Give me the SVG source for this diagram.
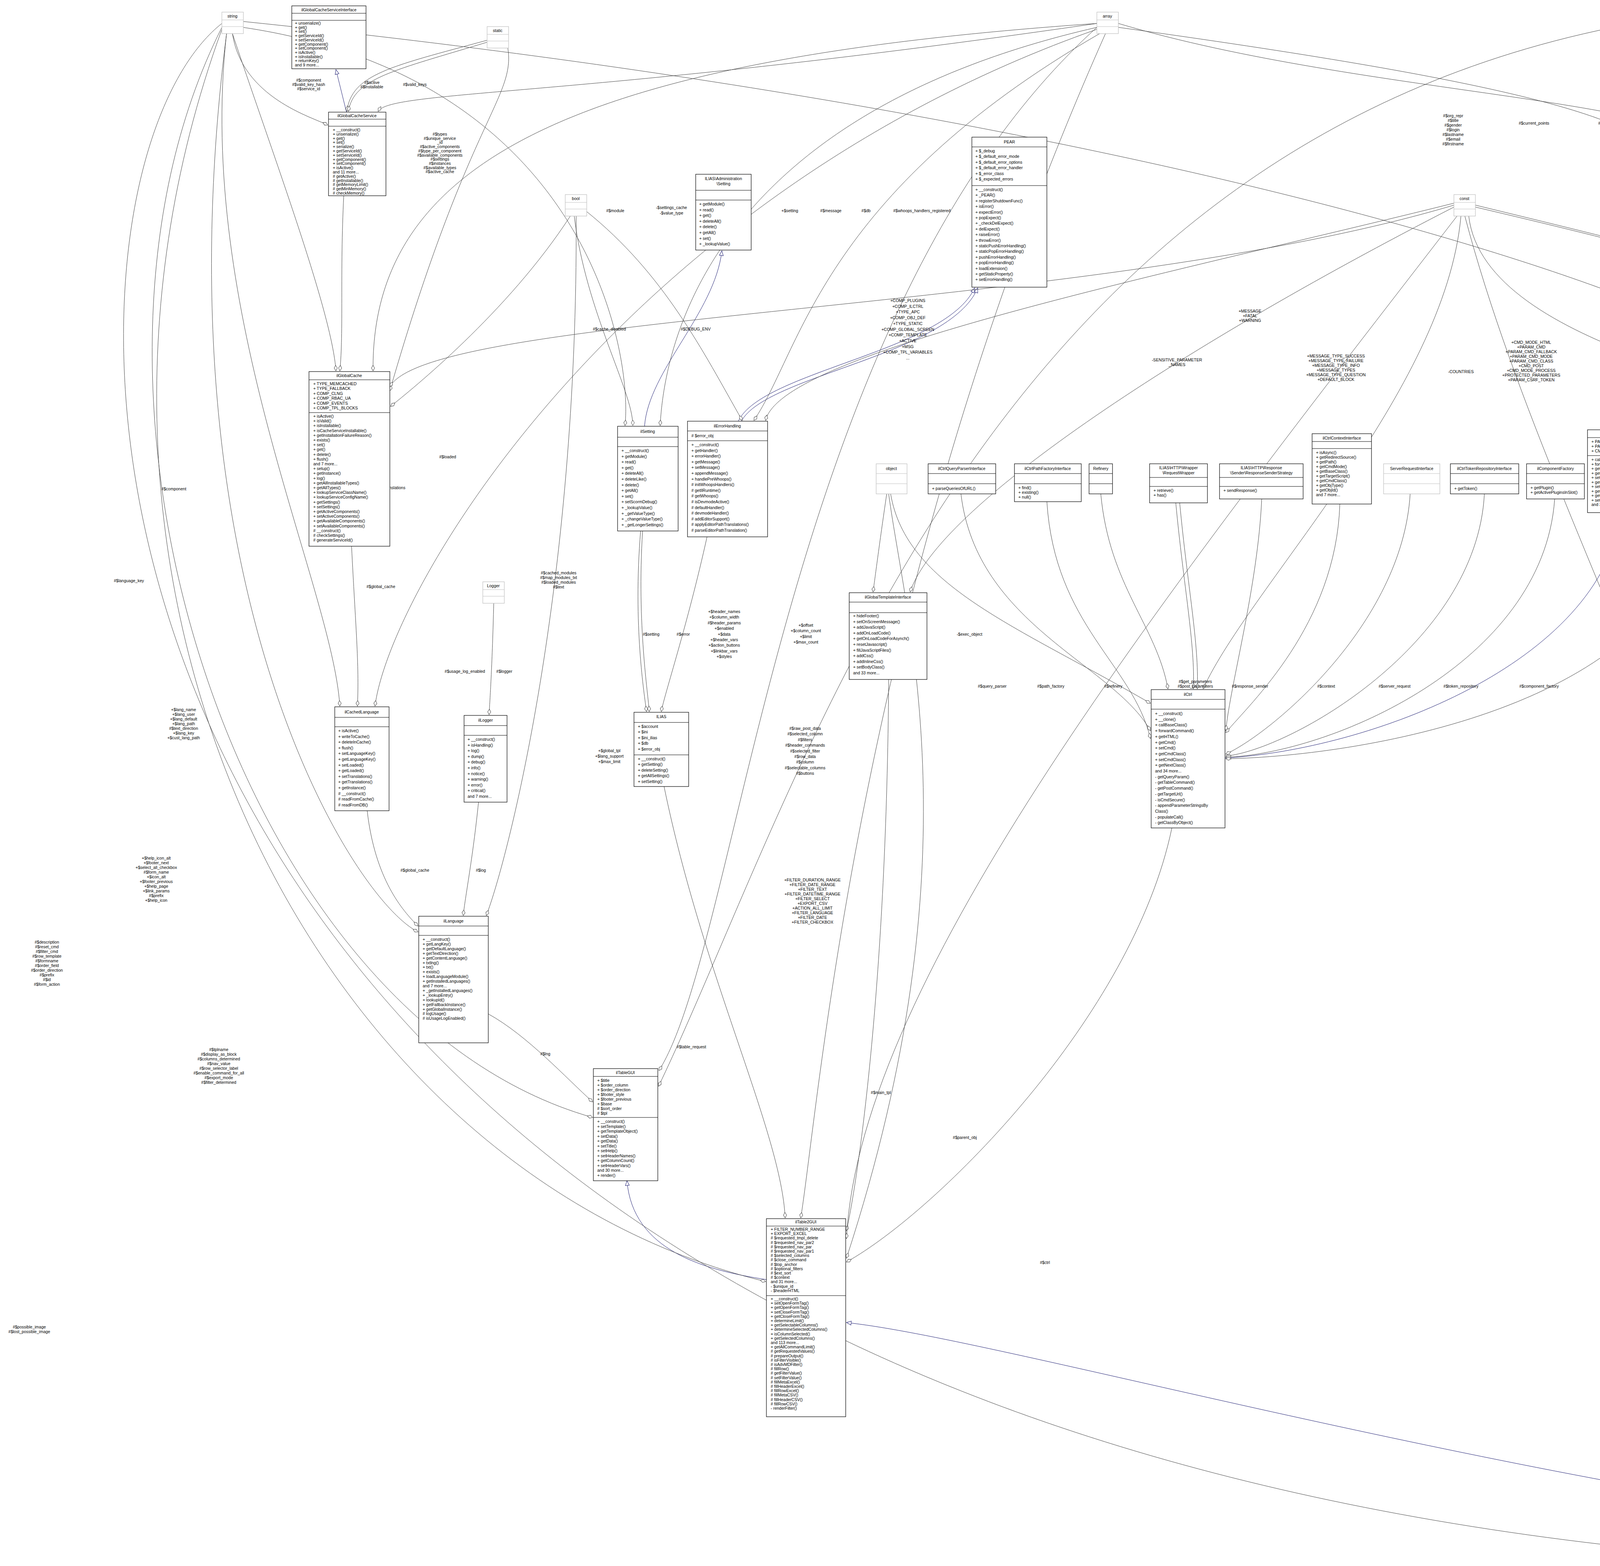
<svg xmlns="http://www.w3.org/2000/svg" width="6097" height="4008" viewBox="0 0 6097 4008">
<defs>
<style>
text{font-family:"Liberation Sans",Arial,sans-serif;font-size:10.5px;fill:#000}
.c{text-anchor:middle}
.l{text-anchor:middle}
.b{fill:#fff;stroke:#000;stroke-width:1.2}
.g{fill:#fff;stroke:#bfbfbf;stroke-width:1.2}
.f{fill:#bfbfbf;stroke:#000;stroke-width:1.2}
.s{stroke:#000;stroke-width:1.2}
.sg{stroke:#bfbfbf;stroke-width:1.2}
.e{fill:none;stroke:#404040;stroke-width:1;marker-end:url(#dia)}
.i{fill:none;stroke:#191970;stroke-width:1;marker-end:url(#tri)}
</style>
<marker id="dia" markerUnits="userSpaceOnUse" markerWidth="16" markerHeight="10" refX="15" refY="5" orient="auto"><path d="M1,5 L8,1 L15,5 L8,9 Z" fill="#fff" stroke="#404040"/></marker>
<marker id="tri" markerUnits="userSpaceOnUse" markerWidth="14" markerHeight="12" refX="13" refY="6" orient="auto"><path d="M1,1 L13,6 L1,11 Z" fill="#fff" stroke="#191970"/></marker>
</defs>
<rect width="6097" height="4008" fill="#fff"/>

<g id="edges">
<path class="i" d="M887,287 L860,178"/>
<path class="i" d="M1650,1091 C1660,950 1830,800 1848,642"/>
<path class="i" d="M1890,1078 C1950,950 2420,900 2495,737"/>
<path class="i" d="M1898,1078 C1960,960 2430,910 2503,737"/>
<path class="i" d="M3136,1940 C3500,1920 4100,1700 4150,1312"/>
<path class="i" d="M5520,1107 C5450,900 4400,800 4300,606"/>
<path class="i" d="M4574,3870 C3500,3700 2500,3420 2167,3385"/>
<path class="i" d="M1962,3275 C1800,3250 1620,3200 1605,3022"/>
<path class="e" d="M1247,103 C1000,170 900,190 888,285"/>
<path class="e" d="M1247,108 C1010,180 905,200 892,285"/>
<path class="e" d="M1300,123 C1320,250 1200,300 998,1000"/>
<path class="e" d="M595,86 C620,250 800,300 839,320"/>
<path class="e" d="M595,86 C700,400 850,800 860,949"/>
<path class="e" d="M2808,60 C1500,150 950,400 955,949"/>
<path class="e" d="M1460,553 C1300,800 1050,1000 1000,1040"/>
<path class="e" d="M880,501 C870,700 880,850 870,949"/>
<path class="e" d="M900,1398 C910,1600 920,1700 915,1807"/>
<path class="e" d="M940,2075 C960,2250 1030,2330 1070,2370"/>
<path class="e" d="M1225,2053 C1210,2200 1190,2300 1186,2343"/>
<path class="e" d="M1264,1544 C1260,1700 1255,1780 1252,1829"/>
<path class="e" d="M1475,553 C1480,1500 1300,2200 1245,2343"/>
<path class="e" d="M580,86 C400,1500 900,2300 1070,2385"/>
<path class="e" d="M1250,2595 C1350,2650 1450,2760 1517,2820"/>
<path class="e" d="M568,70 C100,1000 600,2600 1517,2860"/>
<path class="e" d="M568,75 C50,1500 800,3000 1960,3280"/>
<path class="e" d="M1640,1359 C1620,1600 1650,1780 1655,1821"/>
<path class="e" d="M1645,1359 C1630,1600 1660,1780 1662,1821"/>
<path class="e" d="M1810,1374 C1760,1600 1700,1780 1693,1821"/>
<path class="e" d="M2275,1739 C2270,2500 2200,3000 2167,3150"/>
<path class="e" d="M2270,1264 C2250,1400 2240,1480 2235,1515"/>
<path class="e" d="M2275,1264 C2320,1600 2500,2200 2167,3220"/>
<path class="e" d="M2280,1264 C2320,1500 2600,1600 2945,1800"/>
<path class="e" d="M2460,1264 C2500,1600 2850,1700 2945,1870"/>
<path class="e" d="M2680,1284 C2700,1600 2900,1700 2945,1890"/>
<path class="e" d="M2818,1264 C2840,1500 2960,1600 2990,1763"/>
<path class="e" d="M3010,1287 C3030,1500 3060,1650 3055,1763"/>
<path class="e" d="M3020,1287 C3040,1500 3070,1650 3065,1763"/>
<path class="e" d="M3230,1277 C3220,1500 3150,1750 3138,1870"/>
<path class="e" d="M3430,1290 C3420,1600 3200,1800 3138,1875"/>
<path class="e" d="M3610,1264 C3590,1600 3250,1880 3138,1930"/>
<path class="e" d="M3800,1264 C3780,1650 3300,1920 3138,1935"/>
<path class="e" d="M3980,1277 C3950,1700 3400,1930 3138,1938"/>
<path class="e" d="M4350,1296 C4300,1800 3500,1935 3138,1942"/>
<path class="e" d="M3000,2119 C2900,2600 2400,3100 2167,3230"/>
<path class="e" d="M4468,258 L4468,415"/>
<path class="e" d="M4185,60 C4300,150 4430,300 4427,415"/>
<path class="e" d="M2863,60 C3500,250 4380,250 4410,415"/>
<path class="e" d="M4470,670 C4500,900 4700,1000 4715,1105"/>
<path class="e" d="M4760,1345 C4800,1700 5100,1850 5176,1920"/>
<path class="e" d="M4766,1345 C4810,1700 5110,1860 5176,1932"/>
<path class="e" d="M5277,1330 L5275,1829"/>
<path class="e" d="M5545,1345 C5520,1700 5450,1880 5378,1925"/>
<path class="e" d="M5220,2053 C5100,2500 4800,3500 4760,3900"/>
<path class="e" d="M4594,150 C6080,300 6080,2500 4760,3910"/>
<path class="e" d="M3750,553 C4000,1500 4700,2500 4670,3808"/>
<path class="e" d="M568,60 C10,500 10,3700 4572,3995"/>
<path class="e" d="M5610,495 C5600,800 5600,1000 5600,1105"/>
<path class="e" d="M5650,495 C5800,1500 5500,1800 5378,1835"/>
<path class="e" d="M4185,50 C5000,100 5500,700 5560,1105"/>
<path class="e" d="M4185,45 C5800,100 5900,1500 5380,1845"/>
<path class="e" d="M3777,525 C4500,700 5300,900 5480,1105"/>
<path class="e" d="M3777,530 C4500,700 5250,900 5260,1120"/>
<path class="e" d="M3760,553 C3800,900 4600,1000 4740,1105"/>
<path class="e" d="M3740,553 C3700,1000 3200,1500 3080,1763"/>
<path class="e" d="M3722,530 C3000,900 2400,1300 2330,1515"/>
<path class="e" d="M3722,520 C3000,700 2000,900 1960,1076"/>
<path class="e" d="M3722,525 C2800,800 1100,800 998,990"/>
<path class="e" d="M3730,553 C3000,1500 2200,2500 2167,3170"/>
<path class="e" d="M2808,70 C2000,800 1900,2400 1687,2740"/>
<path class="e" d="M4130,70 C2500,400 2060,2000 1686,2780"/>
<path class="e" d="M2830,86 C2200,1500 2100,2800 2050,3117"/>
<path class="e" d="M2808,70 C1800,300 1700,900 1690,1089"/>
<path class="e" d="M622,70 C1500,200 1620,900 1600,1089"/>
<path class="e" d="M2815,86 C2100,500 2050,900 1930,1076"/>
<path class="e" d="M1500,540 C1700,700 1800,900 1900,1076"/>
<path class="e" d="M1470,553 C1500,800 1620,1000 1620,1089"/>
<path class="e" d="M1700,2013 C1800,2500 2000,2900 2010,3117"/>
<path class="e" d="M4160,70 C4000,200 4200,350 4220,428"/>
<path class="e" d="M2863,70 C3800,200 4250,300 4260,428"/>
<path class="e" d="M623,55 C3000,300 4600,800 4730,1105"/>
<path class="e" d="M2808,60 C1500,250 1000,230 968,285"/>
<path class="e" d="M2808,75 C1600,500 1000,1500 960,1807"/>
<path class="e" d="M580,86 C500,800 850,1500 870,1807"/>
</g>

<g id="labels">
<text class="l" x="790" y="209">#$component<tspan x="790" dy="11">#$valid_key_hash</tspan><tspan x="790" dy="11">#$service_id</tspan></text>
<text class="l" x="952" y="215">#$active<tspan x="952" dy="11">#$installable</tspan></text>
<text class="l" x="1062" y="220">#$valid_keys</text>
<text class="l" x="1126" y="347">#$types<tspan x="1126" dy="10.7">#$unique_service</tspan><tspan x="1126" dy="10.7">_id</tspan><tspan x="1126" dy="10.7">#$active_components</tspan><tspan x="1126" dy="10.7">#$type_per_component</tspan><tspan x="1126" dy="10.7">#$available_components</tspan><tspan x="1126" dy="10.7">#$settings</tspan><tspan x="1126" dy="10.7">#$instances</tspan><tspan x="1126" dy="10.7">#$available_types</tspan><tspan x="1126" dy="10.7">#$active_cache</tspan></text>
<text class="l" x="1146" y="1173">#$loaded</text>
<text class="l" x="1575" y="543">#$module</text>
<text class="l" x="1719" y="535">-$settings_cache<tspan x="1719" dy="14">-$value_type</tspan></text>
<text class="l" x="2022" y="543">+$setting</text>
<text class="l" x="2127" y="543">#$message</text>
<text class="l" x="2217" y="543">#$db</text>
<text class="l" x="2360" y="543">#$whoops_handlers_registered</text>
<text class="l" x="1781" y="846">#$DEBUG_ENV</text>
<text class="l" x="1560" y="846">#$cache_disabled</text>
<text class="l" x="2324" y="773">+COMP_PLUGINS<tspan x="2324" dy="14.7">+COMP_ILCTRL</tspan><tspan x="2324" dy="14.7">+TYPE_APC</tspan><tspan x="2324" dy="14.7">+COMP_OBJ_DEF</tspan><tspan x="2324" dy="14.7">+TYPE_STATIC</tspan><tspan x="2324" dy="14.7">+COMP_GLOBAL_SCREEN</tspan><tspan x="2324" dy="14.7">+COMP_TEMPLATE</tspan><tspan x="2324" dy="14.7">+ACTIVE</tspan><tspan x="2324" dy="14.7">+MSG</tspan><tspan x="2324" dy="14.7">+COMP_TPL_VARIABLES</tspan><tspan x="2324" dy="14.7">...</tspan></text>
<text class="l" x="1667" y="1627">#$setting</text>
<text class="l" x="1749" y="1627">#$error</text>
<text class="l" x="1854" y="1569">+$header_names<tspan x="1854" dy="14.4">+$column_width</tspan><tspan x="1854" dy="14.4">#$header_params</tspan><tspan x="1854" dy="14.4">+$enabled</tspan><tspan x="1854" dy="14.4">+$data</tspan><tspan x="1854" dy="14.4">+$header_vars</tspan><tspan x="1854" dy="14.4">+$action_buttons</tspan><tspan x="1854" dy="14.4">+$linkbar_vars</tspan><tspan x="1854" dy="14.4">+$styles</tspan></text>
<text class="l" x="2063" y="1604">+$offset<tspan x="2063" dy="14.4">+$column_count</tspan><tspan x="2063" dy="14.4">+$limit</tspan><tspan x="2063" dy="14.4">+$max_count</tspan></text>
<text class="l" x="2482" y="1627">-$exec_object</text>
<text class="l" x="2061" y="1868">#$raw_post_data<tspan x="2061" dy="14.4">#$selected_column</tspan><tspan x="2061" dy="14.4">#$filters</tspan><tspan x="2061" dy="14.4">#$header_commands</tspan><tspan x="2061" dy="14.4">#$selected_filter</tspan><tspan x="2061" dy="14.4">#$row_data</tspan><tspan x="2061" dy="14.4">#$column</tspan><tspan x="2061" dy="14.4">#$selectable_columns</tspan><tspan x="2061" dy="14.4">#$buttons</tspan></text>
<text class="l" x="1062" y="2231">#$global_cache</text>
<text class="l" x="1231" y="2231">#$log</text>
<text class="l" x="1396" y="2701">#$lng</text>
<text class="l" x="1560" y="1925">+$global_tpl<tspan x="1560" dy="14">+$lang_support</tspan><tspan x="1560" dy="14">+$max_limit</tspan></text>
<text class="l" x="975" y="1505">#$global_cache</text>
<text class="l" x="445" y="1255">#$component</text>
<text class="l" x="330" y="1490">#$language_key</text>
<text class="l" x="1005" y="1252">#$translations</text>
<text class="l" x="1430" y="1470">#$cached_modules<tspan x="1430" dy="12">#$map_modules_txt</tspan><tspan x="1430" dy="12">#$loaded_modules</tspan><tspan x="1430" dy="12">#$text</tspan></text>
<text class="l" x="1190" y="1722">#$usage_log_enabled</text>
<text class="l" x="1291" y="1722">#$logger</text>
<text class="l" x="470" y="1820">+$lang_name<tspan x="470" dy="12">+$lang_user</tspan><tspan x="470" dy="12">+$lang_default</tspan><tspan x="470" dy="12">+$lang_path</tspan><tspan x="470" dy="12">#$text_direction</tspan><tspan x="470" dy="12">+$lang_key</tspan><tspan x="470" dy="12">+$cust_lang_path</tspan></text>
<text class="l" x="400" y="2200">+$help_icon_alt<tspan x="400" dy="12">+$footer_next</tspan><tspan x="400" dy="12">+$select_all_checkbox</tspan><tspan x="400" dy="12">#$form_name</tspan><tspan x="400" dy="12">+$icon_alt</tspan><tspan x="400" dy="12">+$footer_previous</tspan><tspan x="400" dy="12">+$help_page</tspan><tspan x="400" dy="12">+$link_params</tspan><tspan x="400" dy="12">#$prefix</tspan><tspan x="400" dy="12">+$help_icon</tspan></text>
<text class="l" x="120" y="2415">#$description<tspan x="120" dy="12">#$reset_cmd</tspan><tspan x="120" dy="12">#$filter_cmd</tspan><tspan x="120" dy="12">#$row_template</tspan><tspan x="120" dy="12">#$formname</tspan><tspan x="120" dy="12">#$order_field</tspan><tspan x="120" dy="12">#$order_direction</tspan><tspan x="120" dy="12">#$prefix</tspan><tspan x="120" dy="12">#$id</tspan><tspan x="120" dy="12">#$form_action</tspan></text>
<text class="l" x="560" y="2690">#$tplname<tspan x="560" dy="12">#$display_as_block</tspan><tspan x="560" dy="12">#$columns_determined</tspan><tspan x="560" dy="12">#$nav_value</tspan><tspan x="560" dy="12">#$row_selector_label</tspan><tspan x="560" dy="12">#$enable_command_for_all</tspan><tspan x="560" dy="12">#$export_mode</tspan><tspan x="560" dy="12">#$filter_determined</tspan></text>
<text class="l" x="75" y="3400">#$possible_image<tspan x="75" dy="12">#$lost_possible_image</tspan></text>
<text class="l" x="1770" y="2683">#$table_request</text>
<text class="l" x="2255" y="2800">#$main_tpl</text>
<text class="l" x="2470" y="2915">#$parent_obj</text>
<text class="l" x="2675" y="3235">#$ctrl</text>
<text class="l" x="2080" y="2256">+FILTER_DURATION_RANGE<tspan x="2080" dy="12">+FILTER_DATE_RANGE</tspan><tspan x="2080" dy="12">+FILTER_TEXT</tspan><tspan x="2080" dy="12">+FILTER_DATETIME_RANGE</tspan><tspan x="2080" dy="12">+FILTER_SELECT</tspan><tspan x="2080" dy="12">+EXPORT_CSV</tspan><tspan x="2080" dy="12">+ACTION_ALL_LIMIT</tspan><tspan x="2080" dy="12">+FILTER_LANGUAGE</tspan><tspan x="2080" dy="12">+FILTER_DATE</tspan><tspan x="2080" dy="12">+FILTER_CHECKBOX</tspan></text>
<text class="l" x="2540" y="1760">#$query_parser</text>
<text class="l" x="2690" y="1760">#$path_factory</text>
<text class="l" x="2850" y="1760">#$refinery</text>
<text class="l" x="3060" y="1748">#$get_parameters<tspan x="3060" dy="12">#$post_parameters</tspan></text>
<text class="l" x="3200" y="1760">#$response_sender</text>
<text class="l" x="3395" y="1760">#$context</text>
<text class="l" x="3570" y="1760">#$server_request</text>
<text class="l" x="3740" y="1760">#$token_repository</text>
<text class="l" x="3940" y="1760">#$component_factory</text>
<text class="l" x="4330" y="1760">#$structure</text>
<text class="l" x="3013" y="925">-SENSITIVE_PARAMETER<tspan x="3013" dy="12">_NAMES</tspan></text>
<text class="l" x="3420" y="915">+MESSAGE_TYPE_SUCCESS<tspan x="3420" dy="12">+MESSAGE_TYPE_FAILURE</tspan><tspan x="3420" dy="12">+MESSAGE_TYPE_INFO</tspan><tspan x="3420" dy="12">+MESSAGE_TYPES</tspan><tspan x="3420" dy="12">+MESSAGE_TYPE_QUESTION</tspan><tspan x="3420" dy="12">+DEFAULT_BLOCK</tspan></text>
<text class="l" x="3920" y="880">+CMD_MODE_HTML<tspan x="3920" dy="12">+PARAM_CMD</tspan><tspan x="3920" dy="12">+PARAM_CMD_FALLBACK</tspan><tspan x="3920" dy="12">+PARAM_CMD_MODE</tspan><tspan x="3920" dy="12">+PARAM_CMD_CLASS</tspan><tspan x="3920" dy="12">+CMD_POST</tspan><tspan x="3920" dy="12">+CMD_MODE_PROCESS</tspan><tspan x="3920" dy="12">+PROTECTED_PARAMETERS</tspan><tspan x="3920" dy="12">+PARAM_CSRF_TOKEN</tspan></text>
<text class="l" x="4180" y="890">+KEY_UNSAFE_COMMANDS<tspan x="4180" dy="12">+KEY_CLASS_CID</tspan><tspan x="4180" dy="12">+KEY_CLASS_CHILDREN</tspan><tspan x="4180" dy="12">+KEY_CLASS_PARENTS</tspan><tspan x="4180" dy="12">+KEY_SAFE_COMMANDS</tspan><tspan x="4180" dy="12">+KEY_CLASS_CID_PATHS</tspan><tspan x="4180" dy="12">+KEY_CLASS_PATH</tspan><tspan x="4180" dy="12">+KEY_CLASS_NAME</tspan></text>
<text class="l" x="3740" y="955">-COUNTRIES</text>
<text class="l" x="4640" y="810">+EVENT_USER_REASSIGNED<tspan x="4640" dy="12">+EVENT_USER_NOT_SUCCESSFUL</tspan><tspan x="4640" dy="12">+EVENT_VALIDITY_CHANGE</tspan><tspan x="4640" dy="12">+CONNECTOR</tspan><tspan x="4640" dy="12">+EVENT_SCORE_CHANGE</tspan><tspan x="4640" dy="12">+EVENT_USER_TO_RESTART</tspan><tspan x="4640" dy="12">+EVENT_USER_ASSIGNED</tspan><tspan x="4640" dy="12">+EVENT_USER_ABOUT_TO_FAIL</tspan><tspan x="4640" dy="12">+EVENT_USER_DEASSIGNED</tspan><tspan x="4640" dy="12">+EVENT_DEADLINE_CHANGE</tspan></text>
<text class="l" x="5080" y="830">+DATE_TIME_FORMAT<tspan x="5080" dy="12">+STATUS_FAILED</tspan><tspan x="5080" dy="12">+STATUS_ACCREDITED</tspan><tspan x="5080" dy="12">+DATE_FORMAT</tspan><tspan x="5080" dy="12">+STATUS_IN_PROGRESS</tspan><tspan x="5080" dy="12">+STATUS_NOT_RELEVANT</tspan><tspan x="5080" dy="12">+COMPLETED_BY_SUBNODES</tspan><tspan x="5080" dy="12">+STATUS_COMPLETED</tspan></text>
<text class="l" x="3200" y="800">+MESSAGE<tspan x="3200" dy="12">+FATAL</tspan><tspan x="3200" dy="12">+WARNING</tspan></text>
<text class="l" x="3720" y="300">#$org_repr<tspan x="3720" dy="12">#$title</tspan><tspan x="3720" dy="12">#$gender</tspan><tspan x="3720" dy="12">#$login</tspan><tspan x="3720" dy="12">#$lastname</tspan><tspan x="3720" dy="12">#$email</tspan><tspan x="3720" dy="12">#$firstname</tspan></text>
<text class="l" x="3927" y="319">#$current_points</text>
<text class="l" x="4120" y="319">#$subnodes</text>
<text class="l" x="4320" y="303">-$user_data</text>
<text class="l" x="4415" y="303">+$usr_id</text>
<text class="l" x="4489" y="303">+$db</text>
<text class="l" x="4310" y="542">#$container</text>
<text class="l" x="5845" y="900">#$usr_id<tspan x="5845" dy="12">#$last_change_by</tspan><tspan x="5845" dy="12">#$restarted_assignment_id</tspan><tspan x="5845" dy="12">#$id</tspan></text>
<text class="l" x="6037" y="1042">#$db</text>
<text class="l" x="5600" y="955">#$vq_date<tspan x="5600" dy="12">#$deadline</tspan><tspan x="5600" dy="12">#$assignment_date</tspan><tspan x="5600" dy="12">#$completion_date</tspan></text>
<text class="l" x="5110" y="480">#$prg_obj_id<tspan x="5110" dy="12">#$last_change_by</tspan><tspan x="5110" dy="12">#$status</tspan><tspan x="5110" dy="12">#$points</tspan><tspan x="5110" dy="12">#$points_cur</tspan><tspan x="5110" dy="12">#$completion_by</tspan></text>
<text class="l" x="5690" y="1410">#$restart_date<tspan x="5690" dy="12">#$last_change</tspan></text>
<text class="l" x="5047" y="1180">+AUTO_ASSIGNED_BY_GROUP<tspan x="5047" dy="14.7">+DATE_TIME_FORMAT</tspan><tspan x="5047" dy="14.7">+AUTO_ASSIGNED_BY_COURSE</tspan><tspan x="5047" dy="14.7">+AUTO_ASSIGNED_BY_ROLE</tspan><tspan x="5047" dy="14.7">+DATE_FORMAT</tspan><tspan x="5047" dy="14.7">+NO_RESTARTED_ASSIGNMENT</tspan><tspan x="5047" dy="14.7">+AUTO_ASSIGNED_BY_ORGU</tspan></text>
<text class="l" x="4660" y="940">#$udf</text>
<text class="l" x="5125" y="1934">#$other_cols<tspan x="5125" dy="15">#$export_mode</tspan></text>
<text class="l" x="4725" y="2450">#$user_info</text>
<text class="l" x="5230" y="2450">#$events</text>
<text class="l" x="5600" y="2450">#$progress</text>
<text class="l" x="4705" y="2760">-SEL_COLUMN_DEADLINE<tspan x="4705" dy="12">-SEL_COLUMN_ASSIGNMENT</tspan><tspan x="4705" dy="12">_DATE</tspan><tspan x="4705" dy="12">-SEL_COLUMN_COMPLETION_DATE</tspan></text>
<text class="l" x="4600" y="3420">#$assignment</text>
</g>

<g id="n_string"><rect class="g" x="568" y="31" width="55" height="55"/><line class="sg" x1="568" y1="51" x2="623" y2="51"/><line class="sg" x1="568" y1="68" x2="623" y2="68"/><text class="c" x="595" y="45">string</text></g>
<g id="n_static"><rect class="g" x="1247" y="68" width="55" height="55"/><line class="sg" x1="1247" y1="88" x2="1302" y2="88"/><line class="sg" x1="1247" y1="105" x2="1302" y2="105"/><text class="c" x="1274" y="82">static</text></g>
<g id="n_array"><rect class="g" x="2808" y="31" width="55" height="55"/><line class="sg" x1="2808" y1="51" x2="2863" y2="51"/><line class="sg" x1="2808" y1="68" x2="2863" y2="68"/><text class="c" x="2835" y="45">array</text></g>
<g id="n_int"><rect class="g" x="4130" y="31" width="55" height="55"/><line class="sg" x1="4130" y1="51" x2="4185" y2="51"/><line class="sg" x1="4130" y1="68" x2="4185" y2="68"/><text class="c" x="4157" y="45">int</text></g>
<g id="n_bool"><rect class="g" x="1447" y="498" width="55" height="55"/><line class="sg" x1="1447" y1="518" x2="1502" y2="518"/><line class="sg" x1="1447" y1="535" x2="1502" y2="535"/><text class="c" x="1474" y="512">bool</text></g>
<g id="n_const"><rect class="g" x="3722" y="498" width="55" height="55"/><line class="sg" x1="3722" y1="518" x2="3777" y2="518"/><line class="sg" x1="3722" y1="535" x2="3777" y2="535"/><text class="c" x="3749" y="512">const</text></g>
<g id="n_Logger"><rect class="g" x="1236" y="1489" width="55" height="55"/><line class="sg" x1="1236" y1="1509" x2="1291" y2="1509"/><line class="sg" x1="1236" y1="1526" x2="1291" y2="1526"/><text class="c" x="1263" y="1503">Logger</text></g>
<g id="n_DateTimeImmutable"><rect class="g" x="5560" y="440" width="115" height="55"/><line class="sg" x1="5560" y1="460" x2="5675" y2="460"/><line class="sg" x1="5560" y1="477" x2="5675" y2="477"/><text class="c" x="5617" y="454">DateTimeImmutable</text></g>
<g id="n_object"><rect class="g" x="2243" y="1187" width="79" height="77"/><line class="sg" x1="2243" y1="1212" x2="2322" y2="1212"/><line class="sg" x1="2243" y1="1238" x2="2322" y2="1238"/><text class="c" x="2282" y="1203">object</text></g>
<g id="n_ServerRequestInterface"><rect class="g" x="3542" y="1187" width="144" height="77"/><line class="sg" x1="3542" y1="1212" x2="3686" y2="1212"/><line class="sg" x1="3542" y1="1238" x2="3686" y2="1238"/><text class="c" x="3614" y="1203">ServerRequestInterface</text></g>

<g id="n_ilGlobalCacheServiceInterface"><rect class="b" x="747" y="15" width="190" height="161"/><line class="s" x1="747" y1="34" x2="937" y2="34"/><line class="s" x1="747" y1="52" x2="937" y2="52"/><text class="c" x="842" y="29">ilGlobalCacheServiceInterface</text><text x="755" y="63">+ unserialize()<tspan x="755" dy="10.7">+ get()</tspan><tspan x="755" dy="10.7">+ set()</tspan><tspan x="755" dy="10.7">+ getServiceId()</tspan><tspan x="755" dy="10.7">+ setServiceId()</tspan><tspan x="755" dy="10.7">+ getComponent()</tspan><tspan x="755" dy="10.7">+ setComponent()</tspan><tspan x="755" dy="10.7">+ isActive()</tspan><tspan x="755" dy="10.7">+ isInstallable()</tspan><tspan x="755" dy="10.7">+ returnKey()</tspan><tspan x="755" dy="10.7">and 9 more...</tspan></text></g>

<g id="n_ilGlobalCacheService"><rect class="b" x="841" y="287" width="147" height="214"/><line class="s" x1="841" y1="305" x2="988" y2="305"/><line class="s" x1="841" y1="323" x2="988" y2="323"/><text class="c" x="914" y="300">ilGlobalCacheService</text><text x="852" y="336">+ __construct()<tspan x="852" dy="10.8">+ unserialize()</tspan><tspan x="852" dy="10.8">+ get()</tspan><tspan x="852" dy="10.8">+ set()</tspan><tspan x="852" dy="10.8">+ serialize()</tspan><tspan x="852" dy="10.8">+ getServiceId()</tspan><tspan x="852" dy="10.8">+ setServiceId()</tspan><tspan x="852" dy="10.8">+ getComponent()</tspan><tspan x="852" dy="10.8">+ setComponent()</tspan><tspan x="852" dy="10.8">+ isActive()</tspan><tspan x="852" dy="10.8">and 11 more...</tspan><tspan x="852" dy="10.8"># getActive()</tspan><tspan x="852" dy="10.8"># getInstallable()</tspan><tspan x="852" dy="10.8"># getMemoryLimit()</tspan><tspan x="852" dy="10.8"># getMinMemory()</tspan><tspan x="852" dy="10.8"># checkMemory()</tspan></text></g>

<g id="n_ilGlobalCache"><rect class="b" x="791" y="951" width="207" height="447"/><line class="s" x1="791" y1="972" x2="998" y2="972"/><line class="s" x1="791" y1="1056" x2="998" y2="1056"/><text class="c" x="894" y="965">ilGlobalCache</text><text x="802" y="986">+ TYPE_MEMCACHED<tspan x="802" dy="12.4">+ TYPE_FALLBACK</tspan><tspan x="802" dy="12.4">+ COMP_CLNG</tspan><tspan x="802" dy="12.4">+ COMP_RBAC_UA</tspan><tspan x="802" dy="12.4">+ COMP_EVENTS</tspan><tspan x="802" dy="12.4">+ COMP_TPL_BLOCKS</tspan></text><text x="802" y="1069">+ isActive()<tspan x="802" dy="12.2">+ isValid()</tspan><tspan x="802" dy="12.2">+ isInstallable()</tspan><tspan x="802" dy="12.2">+ isCacheServiceInstallable()</tspan><tspan x="802" dy="12.2">+ getInstallationFailureReason()</tspan><tspan x="802" dy="12.2">+ exists()</tspan><tspan x="802" dy="12.2">+ set()</tspan><tspan x="802" dy="12.2">+ get()</tspan><tspan x="802" dy="12.2">+ delete()</tspan><tspan x="802" dy="12.2">+ flush()</tspan><tspan x="802" dy="12.2">and 7 more...</tspan><tspan x="802" dy="12.2">+ setup()</tspan><tspan x="802" dy="12.2">+ getInstance()</tspan><tspan x="802" dy="12.2">+ log()</tspan><tspan x="802" dy="12.2">+ getAllInstallableTypes()</tspan><tspan x="802" dy="12.2">+ getAllTypes()</tspan><tspan x="802" dy="12.2">+ lookupServiceClassName()</tspan><tspan x="802" dy="12.2">+ lookupServiceConfigName()</tspan><tspan x="802" dy="12.2">+ getSettings()</tspan><tspan x="802" dy="12.2">+ setSettings()</tspan><tspan x="802" dy="12.2">+ getActiveComponents()</tspan><tspan x="802" dy="12.2">+ setActiveComponents()</tspan><tspan x="802" dy="12.2">+ getAvailableComponents()</tspan><tspan x="802" dy="12.2">+ setAvailableComponents()</tspan><tspan x="802" dy="12.2"># __construct()</tspan><tspan x="802" dy="12.2"># checkSettings()</tspan><tspan x="802" dy="12.2"># generateServiceId()</tspan></text></g>

<g id="n_ilCachedLanguage"><rect class="b" x="857" y="1809" width="139" height="266"/><line class="s" x1="857" y1="1836" x2="996" y2="1836"/><line class="s" x1="857" y1="1860" x2="996" y2="1860"/><text class="c" x="926" y="1826">ilCachedLanguage</text><text x="866" y="1874">+ isActive()<tspan x="866" dy="14.6">+ writeToCache()</tspan><tspan x="866" dy="14.6">+ deleteInCache()</tspan><tspan x="866" dy="14.6">+ flush()</tspan><tspan x="866" dy="14.6">+ setLanguageKey()</tspan><tspan x="866" dy="14.6">+ getLanguageKey()</tspan><tspan x="866" dy="14.6">+ setLoaded()</tspan><tspan x="866" dy="14.6">+ getLoaded()</tspan><tspan x="866" dy="14.6">+ setTranslations()</tspan><tspan x="866" dy="14.6">+ getTranslations()</tspan><tspan x="866" dy="14.6">+ getInstance()</tspan><tspan x="866" dy="14.6"># __construct()</tspan><tspan x="866" dy="14.6"># readFromCache()</tspan><tspan x="866" dy="14.6"># readFromDB()</tspan></text></g>

<g id="n_ilLogger"><rect class="b" x="1188" y="1831" width="110" height="222"/><line class="s" x1="1188" y1="1857" x2="1298" y2="1857"/><line class="s" x1="1188" y1="1882" x2="1298" y2="1882"/><text class="c" x="1243" y="1847">ilLogger</text><text x="1197" y="1896">+ __construct()<tspan x="1197" dy="14.6">+ isHandling()</tspan><tspan x="1197" dy="14.6">+ log()</tspan><tspan x="1197" dy="14.6">+ dump()</tspan><tspan x="1197" dy="14.6">+ debug()</tspan><tspan x="1197" dy="14.6">+ info()</tspan><tspan x="1197" dy="14.6">+ notice()</tspan><tspan x="1197" dy="14.6">+ warning()</tspan><tspan x="1197" dy="14.6">+ error()</tspan><tspan x="1197" dy="14.6">+ critical()</tspan><tspan x="1197" dy="14.6">and 7 more...</tspan></text></g>

<g id="n_ilLanguage"><rect class="b" x="1072" y="2345" width="178" height="324"/><line class="s" x1="1072" y1="2370" x2="1250" y2="2370"/><line class="s" x1="1072" y1="2394" x2="1250" y2="2394"/><text class="c" x="1161" y="2361">ilLanguage</text><text x="1082" y="2408">+ __construct()<tspan x="1082" dy="11.9">+ getLangKey()</tspan><tspan x="1082" dy="11.9">+ getDefaultLanguage()</tspan><tspan x="1082" dy="11.9">+ getTextDirection()</tspan><tspan x="1082" dy="11.9">+ getContentLanguage()</tspan><tspan x="1082" dy="11.9">+ txtlng()</tspan><tspan x="1082" dy="11.9">+ txt()</tspan><tspan x="1082" dy="11.9">+ exists()</tspan><tspan x="1082" dy="11.9">+ loadLanguageModule()</tspan><tspan x="1082" dy="11.9">+ getInstalledLanguages()</tspan><tspan x="1082" dy="11.9">and 7 more...</tspan><tspan x="1082" dy="11.9">+ _getInstalledLanguages()</tspan><tspan x="1082" dy="11.9">+ _lookupEntry()</tspan><tspan x="1082" dy="11.9">+ lookupId()</tspan><tspan x="1082" dy="11.9">+ getFallbackInstance()</tspan><tspan x="1082" dy="11.9">+ getGlobalInstance()</tspan><tspan x="1082" dy="11.9"># logUsage()</tspan><tspan x="1082" dy="11.9"># isUsageLogEnabled()</tspan></text></g>

<g id="n_ilAdministrationSetting"><rect class="b" x="1781" y="446" width="142" height="194"/><line class="s" x1="1781" y1="487" x2="1923" y2="487"/><line class="s" x1="1781" y1="512" x2="1923" y2="512"/><text class="c" x="1852" y="461">ILIAS\Administration<tspan x="1852" dy="13">\Setting</tspan></text><text x="1790" y="526">+ getModule()<tspan x="1790" dy="14.6">+ read()</tspan><tspan x="1790" dy="14.6">+ get()</tspan><tspan x="1790" dy="14.6">+ deleteAll()</tspan><tspan x="1790" dy="14.6">+ delete()</tspan><tspan x="1790" dy="14.6">+ getAll()</tspan><tspan x="1790" dy="14.6">+ set()</tspan><tspan x="1790" dy="14.6">+ _lookupValue()</tspan></text></g>

<g id="n_PEAR"><rect class="b" x="2488" y="351" width="192" height="384"/><line class="s" x1="2488" y1="376" x2="2680" y2="376"/><line class="s" x1="2488" y1="475" x2="2680" y2="475"/><text class="c" x="2584" y="367">PEAR</text><text x="2497" y="390">+ $_debug<tspan x="2497" dy="14.4">+ $_default_error_mode</tspan><tspan x="2497" dy="14.4">+ $_default_error_options</tspan><tspan x="2497" dy="14.4">+ $_default_error_handler</tspan><tspan x="2497" dy="14.4">+ $_error_class</tspan><tspan x="2497" dy="14.4">+ $_expected_errors</tspan></text><text x="2497" y="489">+ __construct()<tspan x="2497" dy="14.4">+ _PEAR()</tspan><tspan x="2497" dy="14.4">+ registerShutdownFunc()</tspan><tspan x="2497" dy="14.4">+ isError()</tspan><tspan x="2497" dy="14.4">+ expectError()</tspan><tspan x="2497" dy="14.4">+ popExpect()</tspan><tspan x="2497" dy="14.4">+ _checkDelExpect()</tspan><tspan x="2497" dy="14.4">+ delExpect()</tspan><tspan x="2497" dy="14.4">+ raiseError()</tspan><tspan x="2497" dy="14.4">+ throwError()</tspan><tspan x="2497" dy="14.4">+ staticPushErrorHandling()</tspan><tspan x="2497" dy="14.4">+ staticPopErrorHandling()</tspan><tspan x="2497" dy="14.4">+ pushErrorHandling()</tspan><tspan x="2497" dy="14.4">+ popErrorHandling()</tspan><tspan x="2497" dy="14.4">+ loadExtension()</tspan><tspan x="2497" dy="14.4">+ getStaticProperty()</tspan><tspan x="2497" dy="14.4">+ setErrorHandling()</tspan></text></g>

<g id="n_ilSetting"><rect class="b" x="1581" y="1091" width="155" height="268"/><line class="s" x1="1581" y1="1119" x2="1736" y2="1119"/><line class="s" x1="1581" y1="1143" x2="1736" y2="1143"/><text class="c" x="1658" y="1108">ilSetting</text><text x="1591" y="1157">+ __construct()<tspan x="1591" dy="14.6">+ getModule()</tspan><tspan x="1591" dy="14.6">+ read()</tspan><tspan x="1591" dy="14.6">+ get()</tspan><tspan x="1591" dy="14.6">+ deleteAll()</tspan><tspan x="1591" dy="14.6">+ deleteLike()</tspan><tspan x="1591" dy="14.6">+ delete()</tspan><tspan x="1591" dy="14.6">+ getAll()</tspan><tspan x="1591" dy="14.6">+ set()</tspan><tspan x="1591" dy="14.6">+ setScormDebug()</tspan><tspan x="1591" dy="14.6">+ _lookupValue()</tspan><tspan x="1591" dy="14.6">+ _getValueType()</tspan><tspan x="1591" dy="14.6">+ _changeValueType()</tspan><tspan x="1591" dy="14.6">+ _getLongerSettings()</tspan></text></g>

<g id="n_ilErrorHandling"><rect class="b" x="1760" y="1078" width="205" height="296"/><line class="s" x1="1760" y1="1103" x2="1965" y2="1103"/><line class="s" x1="1760" y1="1128" x2="1965" y2="1128"/><text class="c" x="1862" y="1094">ilErrorHandling</text><text x="1770" y="1119"># $error_obj</text><text x="1770" y="1142">+ __construct()<tspan x="1770" dy="14.6">+ getHandler()</tspan><tspan x="1770" dy="14.6">+ errorHandler()</tspan><tspan x="1770" dy="14.6">+ getMessage()</tspan><tspan x="1770" dy="14.6">+ setMessage()</tspan><tspan x="1770" dy="14.6">+ appendMessage()</tspan><tspan x="1770" dy="14.6">+ handlePreWhoops()</tspan><tspan x="1770" dy="14.6"># initWhoopsHandlers()</tspan><tspan x="1770" dy="14.6"># getIlRuntime()</tspan><tspan x="1770" dy="14.6"># getWhoops()</tspan><tspan x="1770" dy="14.6"># isDevmodeActive()</tspan><tspan x="1770" dy="14.6"># defaultHandler()</tspan><tspan x="1770" dy="14.6"># devmodeHandler()</tspan><tspan x="1770" dy="14.6"># addEditorSupport()</tspan><tspan x="1770" dy="14.6"># applyEditorPathTranslations()</tspan><tspan x="1770" dy="14.6"># parseEditorPathTranslation()</tspan></text></g>

<g id="n_ILIAS"><rect class="b" x="1623" y="1823" width="140" height="190"/><line class="s" x1="1623" y1="1849" x2="1763" y2="1849"/><line class="s" x1="1623" y1="1932" x2="1763" y2="1932"/><text class="c" x="1693" y="1838">ILIAS</text><text x="1633" y="1863">+ $account<tspan x="1633" dy="14.4">+ $ini</tspan><tspan x="1633" dy="14.4">+ $ini_ilias</tspan><tspan x="1633" dy="14.4">+ $db</tspan><tspan x="1633" dy="14.4">+ $error_obj</tspan></text><text x="1633" y="1946">+ __construct()<tspan x="1633" dy="14.4">+ getSetting()</tspan><tspan x="1633" dy="14.4">+ deleteSetting()</tspan><tspan x="1633" dy="14.4">+ getAllSettings()</tspan><tspan x="1633" dy="14.4">+ setSetting()</tspan></text></g>

<g id="n_ilCtrlQueryParserInterface"><rect class="b" x="2376" y="1187" width="173" height="77"/><line class="s" x1="2376" y1="1212" x2="2549" y2="1212"/><line class="s" x1="2376" y1="1238" x2="2549" y2="1238"/><text class="c" x="2462" y="1203">ilCtrlQueryParserInterface</text><text x="2386" y="1254">+ parseQueriesOfURL()</text></g>
<g id="n_ilCtrlPathFactoryInterface"><rect class="b" x="2597" y="1187" width="171" height="97"/><line class="s" x1="2597" y1="1212" x2="2768" y2="1212"/><line class="s" x1="2597" y1="1238" x2="2768" y2="1238"/><text class="c" x="2682" y="1203">ilCtrlPathFactoryInterface</text><text x="2607" y="1252">+ find()<tspan x="2607" dy="12">+ existing()</tspan><tspan x="2607" dy="12">+ null()</tspan></text></g>
<g id="n_Refinery"><rect class="b" x="2788" y="1187" width="60" height="77"/><line class="s" x1="2788" y1="1212" x2="2848" y2="1212"/><line class="s" x1="2788" y1="1238" x2="2848" y2="1238"/><text class="c" x="2818" y="1203">Refinery</text></g>
<g id="n_RequestWrapper"><rect class="b" x="2943" y="1187" width="148" height="100"/><line class="s" x1="2943" y1="1222" x2="3091" y2="1222"/><line class="s" x1="2943" y1="1245" x2="3091" y2="1245"/><text class="c" x="3017" y="1201">ILIAS\HTTP\Wrapper<tspan x="3017" dy="13">\RequestWrapper</tspan></text><text x="2953" y="1259">+ retrieve()<tspan x="2953" dy="12">+ has()</tspan></text></g>
<g id="n_ResponseSenderStrategy"><rect class="b" x="3122" y="1187" width="214" height="90"/><line class="s" x1="3122" y1="1222" x2="3336" y2="1222"/><line class="s" x1="3122" y1="1245" x2="3336" y2="1245"/><text class="c" x="3229" y="1201">ILIAS\HTTP\Response<tspan x="3229" dy="13">\Sender\ResponseSenderStrategy</tspan></text><text x="3132" y="1259">+ sendResponse()</text></g>
<g id="n_ilCtrlContextInterface"><rect class="b" x="3359" y="1110" width="152" height="180"/><line class="s" x1="3359" y1="1130" x2="3511" y2="1130"/><line class="s" x1="3359" y1="1148" x2="3511" y2="1148"/><text class="c" x="3435" y="1125">ilCtrlContextInterface</text><text x="3369" y="1162">+ isAsync()<tspan x="3369" dy="12">+ getRedirectSource()</tspan><tspan x="3369" dy="12">+ getPath()</tspan><tspan x="3369" dy="12">+ getCmdMode()</tspan><tspan x="3369" dy="12">+ getBaseClass()</tspan><tspan x="3369" dy="12">+ getTargetScript()</tspan><tspan x="3369" dy="12">+ getCmdClass()</tspan><tspan x="3369" dy="12">+ getObjType()</tspan><tspan x="3369" dy="12">+ getObjId()</tspan><tspan x="3369" dy="12">and 7 more...</tspan></text></g>
<g id="n_ilCtrlTokenRepositoryInterface"><rect class="b" x="3713" y="1187" width="175" height="77"/><line class="s" x1="3713" y1="1212" x2="3888" y2="1212"/><line class="s" x1="3713" y1="1238" x2="3888" y2="1238"/><text class="c" x="3800" y="1203">ilCtrlTokenRepositoryInterface</text><text x="3723" y="1254">+ getToken()</text></g>
<g id="n_ilComponentFactory"><rect class="b" x="3908" y="1187" width="148" height="90"/><line class="s" x1="3908" y1="1212" x2="4056" y2="1212"/><line class="s" x1="3908" y1="1238" x2="4056" y2="1238"/><text class="c" x="3982" y="1203">ilComponentFactory</text><text x="3918" y="1252">+ getPlugin()<tspan x="3918" dy="12">+ getActivePluginsInSlot()</tspan></text></g>
<g id="n_ilCtrlInterface"><rect class="b" x="4064" y="1100" width="174" height="212"/><line class="s" x1="4064" y1="1120" x2="4238" y2="1120"/><line class="s" x1="4064" y1="1166" x2="4238" y2="1166"/><text class="c" x="4151" y="1115">ilCtrlInterface</text><text x="4074" y="1134">+ PARAM_REDIRECT<tspan x="4074" dy="12">+ PARAM_BASE_CLASS</tspan><tspan x="4074" dy="12">+ CMD_MODE_ASYNC</tspan></text><text x="4074" y="1180">+ callBaseClass()<tspan x="4074" dy="11.5">+ forwardCommand()</tspan><tspan x="4074" dy="11.5">+ getHTML()</tspan><tspan x="4074" dy="11.5">+ getCmd()</tspan><tspan x="4074" dy="11.5">+ setCmd()</tspan><tspan x="4074" dy="11.5">+ getCmdClass()</tspan><tspan x="4074" dy="11.5">+ setCmdClass()</tspan><tspan x="4074" dy="11.5">+ getNextClass()</tspan><tspan x="4074" dy="11.5">+ getParameterArray()</tspan><tspan x="4074" dy="11.5">+ setParameter()</tspan><tspan x="4074" dy="11.5">and 32 more...</tspan></text></g>
<g id="n_ilCtrlStructureInterface"><rect class="b" x="4267" y="1100" width="177" height="196"/><line class="s" x1="4267" y1="1120" x2="4444" y2="1120"/><line class="s" x1="4267" y1="1138" x2="4444" y2="1138"/><text class="c" x="4355" y="1115">ilCtrlStructureInterface</text><text x="4277" y="1152">+ isBaseClass()<tspan x="4277" dy="11.5">+ getObjNameByCid()</tspan><tspan x="4277" dy="11.5">+ getObjNameByName()</tspan><tspan x="4277" dy="11.5">+ getClassNameByCid()</tspan><tspan x="4277" dy="11.5">+ getClassPathByName()</tspan><tspan x="4277" dy="11.5">+ getClassPathByCid()</tspan><tspan x="4277" dy="11.5">+ getRelativePathByName()</tspan><tspan x="4277" dy="11.5">+ getRelativePathByCid()</tspan><tspan x="4277" dy="11.5">+ getChildrenByCid()</tspan><tspan x="4277" dy="11.5">+ getChildrenByName()</tspan><tspan x="4277" dy="11.5">+ getParentsByCid()</tspan><tspan x="4277" dy="11.5">and 14 more...</tspan></text></g>

<g id="n_ilGlobalTemplateInterface"><rect class="b" x="2174" y="1517" width="199" height="222"/><line class="s" x1="2174" y1="1541" x2="2373" y2="1541"/><line class="s" x1="2174" y1="1568" x2="2373" y2="1568"/><text class="c" x="2273" y="1532">ilGlobalTemplateInterface</text><text x="2184" y="1580">+ hideFooter()<tspan x="2184" dy="14.6">+ setOnScreenMessage()</tspan><tspan x="2184" dy="14.6">+ addJavaScript()</tspan><tspan x="2184" dy="14.6">+ addOnLoadCode()</tspan><tspan x="2184" dy="14.6">+ getOnLoadCodeForAsynch()</tspan><tspan x="2184" dy="14.6">+ resetJavascript()</tspan><tspan x="2184" dy="14.6">+ fillJavaScriptFiles()</tspan><tspan x="2184" dy="14.6">+ addCss()</tspan><tspan x="2184" dy="14.6">+ addInlineCss()</tspan><tspan x="2184" dy="14.6">+ setBodyClass()</tspan><tspan x="2184" dy="14.6">and 33 more...</tspan></text></g>

<g id="n_ilCtrl"><rect class="b" x="2947" y="1765" width="189" height="354"/><line class="s" x1="2947" y1="1790" x2="3136" y2="1790"/><line class="s" x1="2947" y1="1815" x2="3136" y2="1815"/><text class="c" x="3041" y="1781">ilCtrl</text><text x="2957" y="1830">+ __construct()<tspan x="2957" dy="14.7">+ __clone()</tspan><tspan x="2957" dy="14.7">+ callBaseClass()</tspan><tspan x="2957" dy="14.7">+ forwardCommand()</tspan><tspan x="2957" dy="14.7">+ getHTML()</tspan><tspan x="2957" dy="14.7">+ getCmd()</tspan><tspan x="2957" dy="14.7">+ setCmd()</tspan><tspan x="2957" dy="14.7">+ getCmdClass()</tspan><tspan x="2957" dy="14.7">+ setCmdClass()</tspan><tspan x="2957" dy="14.7">+ getNextClass()</tspan><tspan x="2957" dy="14.7">and 34 more...</tspan><tspan x="2957" dy="14.7">- getQueryParam()</tspan><tspan x="2957" dy="14.7">- getTableCommand()</tspan><tspan x="2957" dy="14.7">- getPostCommand()</tspan><tspan x="2957" dy="14.7">- getTargetUrl()</tspan><tspan x="2957" dy="14.7">- isCmdSecure()</tspan><tspan x="2957" dy="14.7">- appendParameterStringsBy</tspan><tspan x="2957" dy="14.7">Class()</tspan><tspan x="2957" dy="14.7">- populateCall()</tspan><tspan x="2957" dy="14.7">- getClassByObject()</tspan></text></g>

<g id="n_ilTableGUI"><rect class="b" x="1519" y="2735" width="165" height="287"/><line class="s" x1="1519" y1="2755" x2="1684" y2="2755"/><line class="s" x1="1519" y1="2860" x2="1684" y2="2860"/><text class="c" x="1601" y="2749">ilTableGUI</text><text x="1529" y="2769">+ $title<tspan x="1529" dy="12">+ $order_column</tspan><tspan x="1529" dy="12">+ $order_direction</tspan><tspan x="1529" dy="12">+ $footer_style</tspan><tspan x="1529" dy="12">+ $footer_previous</tspan><tspan x="1529" dy="12">+ $base</tspan><tspan x="1529" dy="12"># $sort_order</tspan><tspan x="1529" dy="12"># $tpl</tspan></text><text x="1529" y="2874">+ __construct()<tspan x="1529" dy="12.5">+ setTemplate()</tspan><tspan x="1529" dy="12.5">+ getTemplateObject()</tspan><tspan x="1529" dy="12.5">+ setData()</tspan><tspan x="1529" dy="12.5">+ getData()</tspan><tspan x="1529" dy="12.5">+ setTitle()</tspan><tspan x="1529" dy="12.5">+ setHelp()</tspan><tspan x="1529" dy="12.5">+ setHeaderNames()</tspan><tspan x="1529" dy="12.5">+ getColumnCount()</tspan><tspan x="1529" dy="12.5">+ setHeaderVars()</tspan><tspan x="1529" dy="12.5">and 30 more...</tspan><tspan x="1529" dy="12.5">+ render()</tspan></text></g>

<g id="n_ilTable2GUI"><rect class="b" x="1962" y="3119" width="203" height="507"/><line class="s" x1="1962" y1="3138" x2="2165" y2="3138"/><line class="s" x1="1962" y1="3316" x2="2165" y2="3316"/><text class="c" x="2063" y="3131">ilTable2GUI</text><text x="1973" y="3150">+ FILTER_NUMBER_RANGE<tspan x="1973" dy="11.2">+ EXPORT_EXCEL</tspan><tspan x="1973" dy="11.2"># $requested_tmpl_delete</tspan><tspan x="1973" dy="11.2"># $requested_nav_par2</tspan><tspan x="1973" dy="11.2"># $requested_nav_par</tspan><tspan x="1973" dy="11.2"># $requested_nav_par1</tspan><tspan x="1973" dy="11.2"># $selected_columns</tspan><tspan x="1973" dy="11.2"># $close_command</tspan><tspan x="1973" dy="11.2"># $top_anchor</tspan><tspan x="1973" dy="11.2"># $optional_filters</tspan><tspan x="1973" dy="11.2"># $ext_sort</tspan><tspan x="1973" dy="11.2"># $context</tspan><tspan x="1973" dy="11.2">and 31 more...</tspan><tspan x="1973" dy="11.2">- $unique_id</tspan><tspan x="1973" dy="11.2">- $headerHTML</tspan></text><text x="1973" y="3328">+ __construct()<tspan x="1973" dy="11.2">+ setOpenFormTag()</tspan><tspan x="1973" dy="11.2">+ getOpenFormTag()</tspan><tspan x="1973" dy="11.2">+ setCloseFormTag()</tspan><tspan x="1973" dy="11.2">+ getCloseFormTag()</tspan><tspan x="1973" dy="11.2">+ determineLimit()</tspan><tspan x="1973" dy="11.2">+ getSelectableColumns()</tspan><tspan x="1973" dy="11.2">+ determineSelectedColumns()</tspan><tspan x="1973" dy="11.2">+ isColumnSelected()</tspan><tspan x="1973" dy="11.2">+ getSelectedColumns()</tspan><tspan x="1973" dy="11.2">and 113 more...</tspan><tspan x="1973" dy="11.2">+ getAllCommandLimit()</tspan><tspan x="1973" dy="11.2"># getRequestedValues()</tspan><tspan x="1973" dy="11.2"># prepareOutput()</tspan><tspan x="1973" dy="11.2"># isFilterVisible()</tspan><tspan x="1973" dy="11.2"># isAdvMDFilter()</tspan><tspan x="1973" dy="11.2"># fillRow()</tspan><tspan x="1973" dy="11.2"># getFilterValue()</tspan><tspan x="1973" dy="11.2"># setFilterValue()</tspan><tspan x="1973" dy="11.2"># fillMetaExcel()</tspan><tspan x="1973" dy="11.2"># fillHeaderExcel()</tspan><tspan x="1973" dy="11.2"># fillRowExcel()</tspan><tspan x="1973" dy="11.2"># fillMetaCSV()</tspan><tspan x="1973" dy="11.2"># fillHeaderCSV()</tspan><tspan x="1973" dy="11.2"># fillRowCSV()</tspan><tspan x="1973" dy="11.2">- renderFilter()</tspan></text></g>

<g id="n_ilDBInterface"><rect class="b" x="4358" y="5" width="236" height="253"/><line class="s" x1="4358" y1="36" x2="4594" y2="36"/><line class="s" x1="4358" y1="61" x2="4594" y2="61"/><text class="c" x="4476" y="24">ilDBInterface</text><text x="4369" y="74">+ doesCollationSupportMB4Strings()<tspan x="4369" dy="14.6">+ sanitizeMB4StringIfNotSupported()</tspan><tspan x="4369" dy="14.6">+ initFromIniFile()</tspan><tspan x="4369" dy="14.6">+ connect()</tspan><tspan x="4369" dy="14.6">+ nextId()</tspan><tspan x="4369" dy="14.6">+ createTable()</tspan><tspan x="4369" dy="14.6">+ addPrimaryKey()</tspan><tspan x="4369" dy="14.6">+ createSequence()</tspan><tspan x="4369" dy="14.6">+ getSequenceName()</tspan><tspan x="4369" dy="14.6">+ tableExists()</tspan><tspan x="4369" dy="14.6">and 74 more...</tspan><tspan x="4369" dy="14.6">+ getReservedWords()</tspan><tspan x="4369" dy="14.6">+ isReservedWord()</tspan></text></g>

<g id="n_AssignmentNode"><rect class="b" x="4160" y="430" width="195" height="175"/><line class="s" x1="4160" y1="465" x2="4355" y2="465"/><line class="s" x1="4160" y1="483" x2="4355" y2="483"/><text class="c" x="4257" y="444">ILIAS\StudyProgramme<tspan x="4257" dy="13">\AssignmentNode</tspan></text><text x="4170" y="497">+ __construct()<tspan x="4170" dy="12">+ withSubnode()</tspan><tspan x="4170" dy="12">+ withContainer()</tspan><tspan x="4170" dy="12">+ withSubnodes()</tspan><tspan x="4170" dy="12">+ getSubnodes()</tspan><tspan x="4170" dy="12">+ getPath()</tspan><tspan x="4170" dy="12">+ findSubnodeByPath()</tspan><tspan x="4170" dy="12">+ getId()</tspan><tspan x="4170" dy="12">+ getContainer()</tspan></text></g>

<g id="n_ilUserDefinedData"><rect class="b" x="4385" y="417" width="161" height="253"/><line class="s" x1="4385" y1="443" x2="4546" y2="443"/><line class="s" x1="4385" y1="468" x2="4546" y2="468"/><text class="c" x="4465" y="434">ilUserDefinedData</text><text x="4395" y="482">+ __construct()<tspan x="4395" dy="14.6">+ getUserId()</tspan><tspan x="4395" dy="14.6">+ set()</tspan><tspan x="4395" dy="14.6">+ get()</tspan><tspan x="4395" dy="14.6">+ getAll()</tspan><tspan x="4395" dy="14.6">+ update()</tspan><tspan x="4395" dy="14.6">+ toXML()</tspan><tspan x="4395" dy="14.6">+ addToXML()</tspan><tspan x="4395" dy="14.6">+ __read()</tspan><tspan x="4395" dy="14.6">+ lookupData()</tspan><tspan x="4395" dy="14.6">+ deleteEntriesOfUser()</tspan><tspan x="4395" dy="14.6">+ deleteEntriesOfField()</tspan><tspan x="4395" dy="14.6">+ deleteFieldValue()</tspan></text></g>

<g id="n_ilPRGUserInformation"><rect class="b" x="4704" y="1107" width="176" height="238"/><line class="s" x1="4704" y1="1132" x2="4880" y2="1132"/><line class="s" x1="4704" y1="1158" x2="4880" y2="1158"/><text class="c" x="4792" y="1123">ilPRGUserInformation</text><text x="4714" y="1172">+ __construct()<tspan x="4714" dy="14.7">+ getFirstname()</tspan><tspan x="4714" dy="14.7">+ getLastname()</tspan><tspan x="4714" dy="14.7">+ isActive()</tspan><tspan x="4714" dy="14.7">+ getEmail()</tspan><tspan x="4714" dy="14.7">+ getLogin()</tspan><tspan x="4714" dy="14.7">+ getOrguRepresentation()</tspan><tspan x="4714" dy="14.7">+ getUdf()</tspan><tspan x="4714" dy="14.7">+ getAllUdf()</tspan><tspan x="4714" dy="14.7">+ getFullname()</tspan><tspan x="4714" dy="14.7">+ getGender()</tspan><tspan x="4714" dy="14.7">+ getTitle()</tspan></text></g>

<g id="n_StudyProgrammeEvents"><rect class="b" x="5166" y="1122" width="223" height="208"/><line class="s" x1="5166" y1="1147" x2="5389" y2="1147"/><line class="s" x1="5166" y1="1173" x2="5389" y2="1173"/><text class="c" x="5277" y="1138">StudyProgrammeEvents</text><text x="5176" y="1163">+ EVENT_USER_SUCCESSFUL</text><text x="5176" y="1188">+ userAssigned()<tspan x="5176" dy="14.6">+ userReAssigned()</tspan><tspan x="5176" dy="14.6">+ userDeassigned()</tspan><tspan x="5176" dy="14.6">+ userSuccessful()</tspan><tspan x="5176" dy="14.6">+ userRevertSuccessful()</tspan><tspan x="5176" dy="14.6">+ validityChange()</tspan><tspan x="5176" dy="14.6">+ deadlineChange()</tspan><tspan x="5176" dy="14.6">+ scoreChange()</tspan><tspan x="5176" dy="14.6">+ userRiskyToFail()</tspan><tspan x="5176" dy="14.6">+ informUserByMailToRestart()</tspan></text></g>

<g id="n_ilPRGProgress"><rect class="b" x="5462" y="1107" width="205" height="238"/><line class="s" x1="5462" y1="1132" x2="5667" y2="1132"/><line class="s" x1="5462" y1="1158" x2="5667" y2="1158"/><text class="c" x="5564" y="1123">ilPRGProgress</text><text x="5472" y="1172">+ __construct()<tspan x="5472" dy="14.7">+ getNodeId()</tspan><tspan x="5472" dy="14.7">+ getAmountOfPoints()</tspan><tspan x="5472" dy="14.7">+ withAmountOfPoints()</tspan><tspan x="5472" dy="14.7">+ getCurrentAmountOfPoints()</tspan><tspan x="5472" dy="14.7">+ withCurrentAmountOfPoints()</tspan><tspan x="5472" dy="14.7">+ getStatus()</tspan><tspan x="5472" dy="14.7">+ withStatus()</tspan><tspan x="5472" dy="14.7">+ isTransitionAllowedTo()</tspan><tspan x="5472" dy="14.7">+ getLastChangeBy()</tspan><tspan x="5472" dy="14.7">and 31 more...</tspan><tspan x="5472" dy="14.7">+ getAllowedTargetStatusFor()</tspan></text></g>

<g id="n_ilPRGAssignment"><rect class="b" x="5178" y="1831" width="198" height="222"/><line class="s" x1="5178" y1="1856" x2="5376" y2="1856"/><line class="s" x1="5178" y1="1881" x2="5376" y2="1881"/><text class="c" x="5277" y="1847">ilPRGAssignment</text><text x="5189" y="1896">+ __construct()<tspan x="5189" dy="14.7">+ getId()</tspan><tspan x="5189" dy="14.7">+ getUserId()</tspan><tspan x="5189" dy="14.7">+ getLastChangeBy()</tspan><tspan x="5189" dy="14.7">+ getLastChange()</tspan><tspan x="5189" dy="14.7">+ withLastChange()</tspan><tspan x="5189" dy="14.7">+ getRestartDate()</tspan><tspan x="5189" dy="14.7">+ getRestartedAssignmentId()</tspan><tspan x="5189" dy="14.7">+ isRestarted()</tspan><tspan x="5189" dy="14.7">+ withRestarted()</tspan><tspan x="5189" dy="14.7">and 12 more...</tspan></text></g>

<g id="n_ilStudyProgrammeIndividualPlanTableGUI"><rect class="f" x="4574" y="3810" width="184" height="192"/><line class="s" x1="4574" y1="3845" x2="4758" y2="3845"/><line class="s" x1="4574" y1="3889" x2="4758" y2="3889"/><text class="c" x="4666" y="3824">ilStudyProgrammeIndividual<tspan x="4666" dy="13">PlanTableGUI</tspan></text><text x="4585" y="3903">+ __construct()<tspan x="4585" dy="13.6">+ getSelectableColumns()</tspan><tspan x="4585" dy="13.6"># fillRow()</tspan><tspan x="4585" dy="13.6"># fetchData()</tspan><tspan x="4585" dy="13.6"># getManualStatusSelect()</tspan><tspan x="4585" dy="13.6"># getRequiredPointsInput()</tspan><tspan x="4585" dy="13.6"># getDeadlineInput()</tspan></text></g>
</svg>
